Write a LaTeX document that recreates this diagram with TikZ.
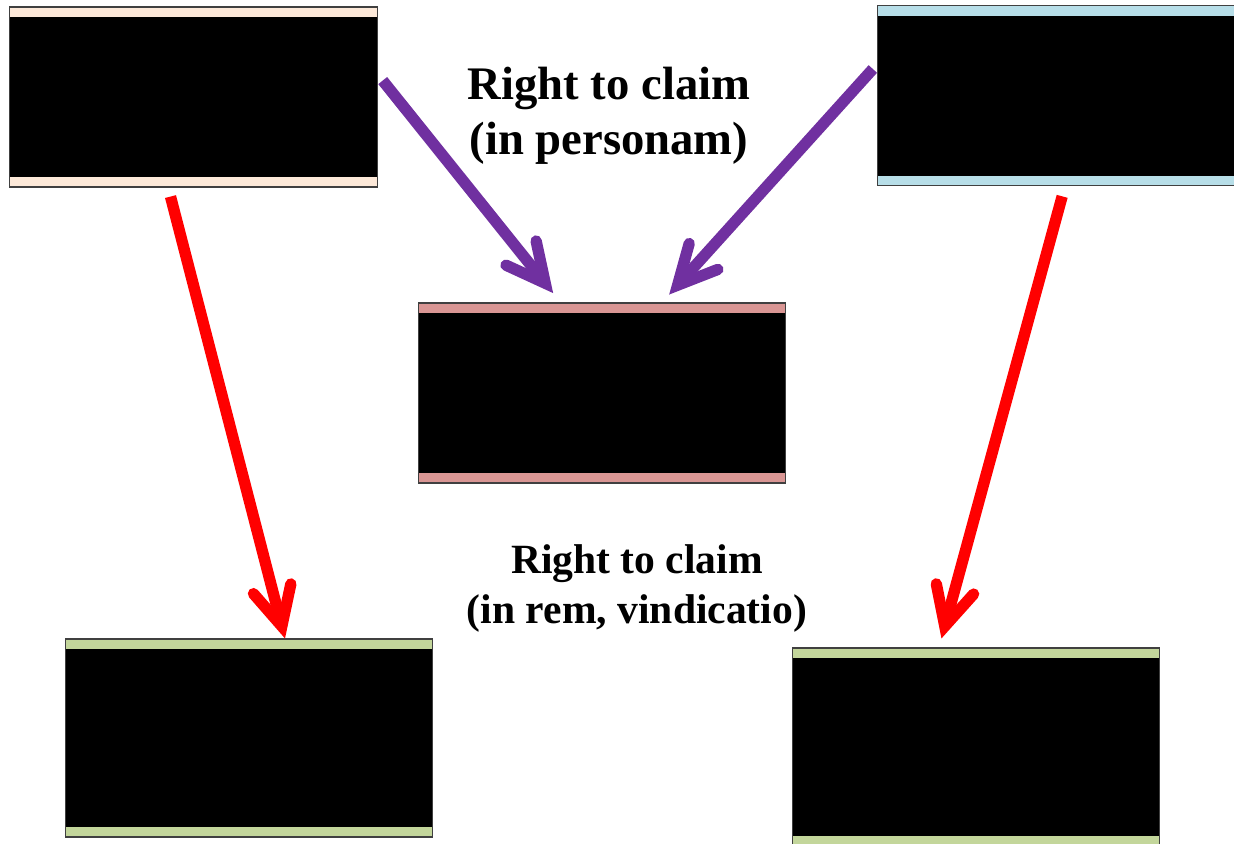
\documentclass[tikz,border=0pt]{standalone}
\usepackage{fontspec}
\setmainfont{Liberation Serif}
\usetikzlibrary{arrows.meta}
\definecolor{peach}{RGB}{253,233,217}
\definecolor{skyblue}{RGB}{183,222,232}
\definecolor{rosepink}{RGB}{217,150,148}
\definecolor{leafgreen}{RGB}{195,214,155}
\definecolor{claimpurple}{RGB}{112,48,160}
\begin{document}
\begin{tikzpicture}[x=0.75pt,y=-0.75pt,
  card/.style={draw=black!75, line width=0.8pt, fill=black, inner sep=0pt,
    minimum width=275.5pt, minimum height=135pt,
    path picture={
      \fill[#1] (path picture bounding box.north west) rectangle ([yshift=-7.5pt]path picture bounding box.north east);
      \fill[#1] (path picture bounding box.south west) rectangle ([yshift=7.5pt]path picture bounding box.south east);}},
  tall/.style={minimum height=148.5pt},
  claim/.style={line width=8.5pt,
    -{Straight Barb[length=29pt,width=29pt,line cap=round,line join=miter]}},
  title/.style={align=center, font=\bfseries\fontsize{35}{41}\selectfont},
  subtitle/.style={align=center, font=\bfseries\fontsize{31.2}{37.5}\selectfont}]
\useasboundingbox (0,0) rectangle (1234,843);

% parties and objects
\node[card=peach] (debtor) at (193.5,97) {};
\node[card=skyblue] (owner) at (1061.5,95.5) {};
\node[card=rosepink] (claimant) at (602,393) {};
\node[card=leafgreen, tall] (thingA) at (249,738) {};
\node[card=leafgreen, tall] (thingB) at (976,747) {};

% labels
\node[title] (personam) at (609,116) {Right to claim\\(in personam)};
\node[subtitle] (rem) at (637,588) {Right to claim\\(in rem, vindicatio)};

% claims in personam
\draw[claim, claimpurple, shorten <=6pt, shorten >=9pt]
  ([yshift=17pt]debtor.east) -- ([xshift=-31pt]claimant.north);
\draw[claim, claimpurple, shorten <=5pt, shorten >=8pt]
  ([yshift=23.6pt]owner.west) -- ([xshift=45pt]claimant.north);

% claims in rem
\draw[claim, red, shorten <=7pt]
  ([xshift=-19pt]debtor.south) -- ([xshift=27pt]thingA.north);
\draw[claim, red, shorten <=8pt, shorten >=7pt]
  ([xshift=2.6pt]owner.south) -- ([xshift=-27.75pt]thingB.north);
\end{tikzpicture}
\end{document}
